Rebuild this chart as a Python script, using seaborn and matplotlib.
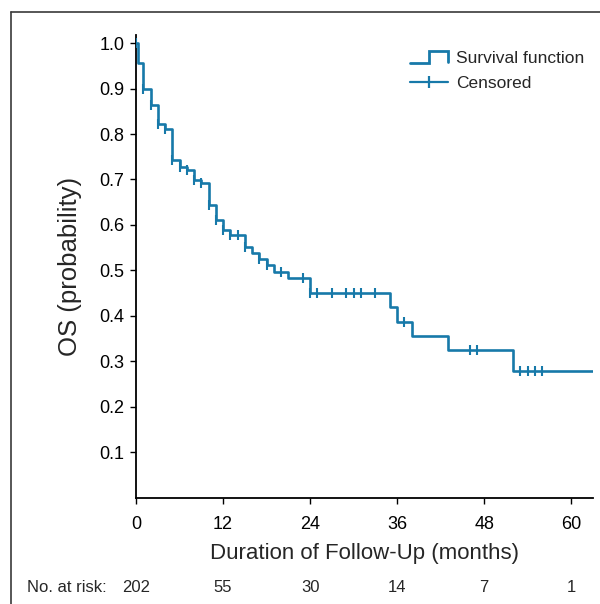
#!/usr/bin/env python3
import pandas as pd
import seaborn as sns
import matplotlib
matplotlib.use('Agg')
import matplotlib.pyplot as plt
from matplotlib.lines import Line2D
from matplotlib.legend_handler import HandlerBase
from matplotlib.transforms import blended_transform_factory

# Kaplan-Meier steps (months, survival after the drop)
drop_times = [0.25, 1.0, 2.0, 3.0, 4.0, 5.0, 6.0, 7.0, 8.0, 9.0, 10.0, 11.0, 12.0,
              13.0, 15.0, 16.0, 17.0, 18.0, 19.0, 21.0, 24.0, 35.0, 36.0, 38.0, 43.0, 52.0]
survival = [0.957, 0.899, 0.863, 0.822, 0.810, 0.743, 0.728, 0.720, 0.699, 0.693, 0.644,
            0.611, 0.588, 0.578, 0.552, 0.539, 0.525, 0.512, 0.497, 0.483, 0.450, 0.420,
            0.387, 0.356, 0.325, 0.279]
end_time = 63.0
censor_times = [0, 1, 2, 3, 4, 5, 6, 7, 8, 9, 10, 11, 12, 13, 14, 15, 17, 18, 20, 23,
                24, 25, 27, 29, 30, 31, 33, 37, 46, 47, 53, 54, 55, 56]

risk_times = [0, 12, 24, 36, 48, 60]
risk_counts = [202, 55, 30, 14, 7, 1]
y_ticks = [0.1, 0.2, 0.3, 0.4, 0.5, 0.6, 0.7, 0.8, 0.9, 1.0]

BLUE = '#1779a9'
FONT = ['Liberation Sans', 'DejaVu Sans']


def surv_at(t):
    s = 1.0
    for dt, sv in zip(drop_times, survival):
        if dt <= t:
            s = sv
    return s


curve = pd.DataFrame({'time': [0.0] + drop_times + [end_time],
                      'surv': [1.0] + survival + [survival[-1]]})
cens = pd.DataFrame({'time': censor_times, 'surv': [surv_at(t) for t in censor_times]})


class StepHandler(HandlerBase):
    def create_artists(self, legend, orig_handle, xdescent, ydescent, width, height, fontsize, trans):
        x0 = -xdescent
        y0 = -ydescent
        xs = [x0, x0 + 0.5 * width, x0 + 0.5 * width, x0 + width, x0 + width]
        ys = [y0, y0, y0 + height, y0 + height, y0 + 0.1 * height]
        ln = Line2D(xs, ys, color=BLUE, lw=2.0, solid_joinstyle='miter')
        ln.set_transform(trans)
        return [ln]


sns.set_theme(style='ticks')
plt.rcParams['font.family'] = FONT

fig = plt.figure(figsize=(6.0, 6.04), dpi=100)
ax = fig.add_axes([136 / 600, 106.5 / 604, (593 - 136) / 600, (497.5 - 35) / 604])

sns.lineplot(data=curve, x='time', y='surv', drawstyle='steps-post', estimator=None,
             color=BLUE, lw=1.9, ax=ax)
sns.scatterplot(data=cens, x='time', y='surv', marker='|', s=48, linewidth=1.5,
                color=BLUE, ax=ax, zorder=3)

ax.set_xlim(0, end_time)
ax.set_ylim(0, 1.018)
ax.set_xticks(risk_times)
ax.set_yticks(y_ticks)
ax.set_yticklabels([f'{v:.1f}' for v in y_ticks])
ax.tick_params(axis='both', direction='out', length=4.5, width=1.0, color='black',
               labelsize=13, labelcolor='black')
ax.tick_params(axis='x', pad=9)
ax.tick_params(axis='y', pad=4)
for side in ('top', 'right'):
    ax.spines[side].set_visible(False)
for side in ('left', 'bottom'):
    ax.spines[side].set_linewidth(1.3)
    ax.spines[side].set_color('black')

ax.set_xlabel('Duration of Follow-Up (months)', fontsize=16, labelpad=7)
ax.set_ylabel('OS (probability)', fontsize=18.5, labelpad=12)

# legend
h_surv = Line2D([], [], color=BLUE)
h_cens = Line2D([], [], color=BLUE, lw=1.6, marker='|', markersize=9, markeredgewidth=1.6)
fig.legend([h_surv, h_cens], ['Survival function', 'Censored'],
           handler_map={h_surv: StepHandler()},
           loc='upper left', bbox_to_anchor=(410 / 600, 1 - 51 / 604),
           frameon=False, fontsize=12.5, handlelength=2.2, handletextpad=0.45,
           labelspacing=0.55, borderpad=0, borderaxespad=0)

# number at risk row
tr = blended_transform_factory(ax.transData, fig.transFigure)
for t, n in zip(risk_times, risk_counts):
    ax.text(t, 1 - 588 / 604, str(n), transform=tr, ha='center', va='center', fontsize=12)
fig.text(27 / 600, 1 - 588 / 604, 'No. at risk:', ha='left', va='center', fontsize=12)

# page frame (open to the right and bottom)
fig.add_artist(Line2D([11 / 600, 11 / 600], [0, 1 - 12 / 604], transform=fig.transFigure,
                      color='#3a3a3a', lw=1.2))
fig.add_artist(Line2D([11 / 600, 1], [1 - 12 / 604, 1 - 12 / 604], transform=fig.transFigure,
                      color='#3a3a3a', lw=1.2))

fig.savefig('out.png', dpi=100)
